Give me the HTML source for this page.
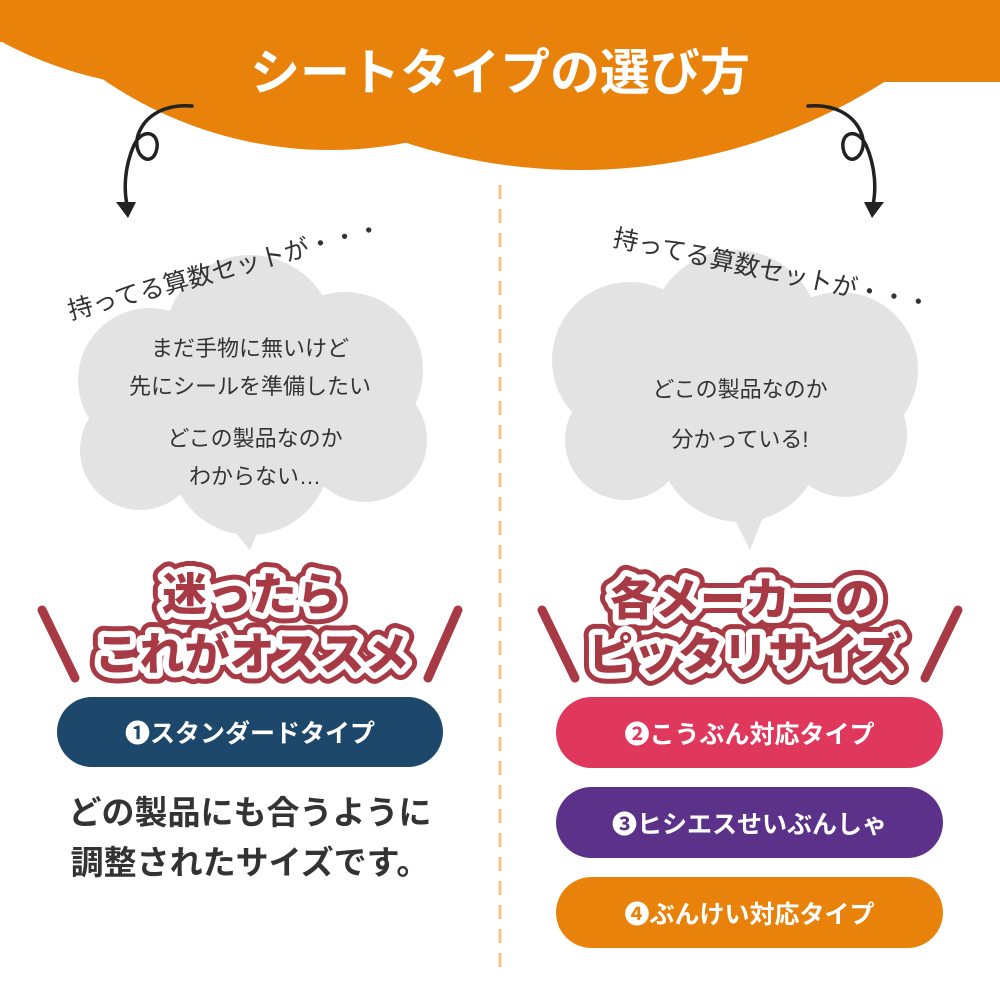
<!DOCTYPE html>
<html><head><meta charset="utf-8"><style>
body{margin:0;width:1000px;height:1000px;background:#fff;overflow:hidden;position:relative;font-family:"Liberation Sans","Noto Sans CJK JP",sans-serif}
.t{position:absolute;white-space:nowrap;color:#333}
.btn{position:absolute;border-radius:36px;color:#fff;font-weight:bold;font-size:25px;display:flex;align-items:center;justify-content:center}
</style></head><body>
<svg width="1000" height="1000" style="position:absolute;left:0;top:0">
<g fill="#e8820a">
<rect x="0" y="0" width="1000" height="42"/>
<ellipse cx="200" cy="-150" rx="330" ry="240"/>
<circle cx="330" cy="-250" r="400"/>
<circle cx="580" cy="-400" r="570"/>
<rect x="700" y="0" width="300" height="82"/>
</g>
<g fill="none" stroke="#222" stroke-width="3.5" stroke-linecap="round">
<path d="M192,106 C165,104 145,115 138,135 C132,155 150,168 156,152 C162,134 144,125 134,145 C124,168 124,190 127,205"/>
<path d="M808,106 C835,104 855,115 862,135 C868,155 850,168 844,152 C838,134 856,125 866,145 C876,168 876,190 873,205"/>
</g>
<path d="M116,202 L136,202 L128,218Z" fill="#222"/>
<path d="M864,202 L884,202 L872,218Z" fill="#222"/>
<line x1="500" y1="185" x2="500" y2="968" stroke="#f0c48a" stroke-width="3" stroke-dasharray="14,10"/>
<g fill="#e3e3e3">
<circle cx="150" cy="380" r="72"/><circle cx="250" cy="340" r="85"/><circle cx="345" cy="370" r="78"/>
<circle cx="365" cy="440" r="62"/><circle cx="250" cy="455" r="80"/><circle cx="140" cy="450" r="60"/>
<path d="M225,520 L250,550 L265,515Z"/>
<circle cx="630" cy="360" r="78"/><circle cx="735" cy="335" r="85"/><circle cx="840" cy="370" r="78"/>
<circle cx="845" cy="435" r="62"/><circle cx="740" cy="440" r="82"/><circle cx="625" cy="440" r="60"/>
<path d="M730,510 L750,550 L768,505Z"/>
</g>
<g stroke="#a83a45" stroke-width="9" stroke-linecap="round">
<line x1="42" y1="610" x2="75" y2="678"/><line x1="458" y1="610" x2="428" y2="678"/>
<line x1="542" y1="610" x2="575" y2="678"/><line x1="958" y1="610" x2="925" y2="678"/>
</g>
<g font-family="Liberation Sans,Noto Sans CJK JP,sans-serif" font-weight="900" font-size="45" text-anchor="middle" stroke-linejoin="round">
<g stroke="#a83a45" stroke-width="22" fill="#a83a45">
<text x="252" y="610">迷ったら</text><text x="252" y="670">これがオススメ</text>
<text x="745" y="615">各メーカーの</text><text x="745" y="670">ピッタリサイズ</text></g>
<g stroke="#fff" stroke-width="12" fill="#fff">
<text x="252" y="610">迷ったら</text><text x="252" y="670">これがオススメ</text>
<text x="745" y="615">各メーカーの</text><text x="745" y="670">ピッタリサイズ</text></g>
<g fill="#a83a45">
<text x="252" y="610">迷ったら</text><text x="252" y="670">これがオススメ</text>
<text x="745" y="615">各メーカーの</text><text x="745" y="670">ピッタリサイズ</text></g>
</g>
<text x="500" y="90" text-anchor="middle" font-family="Liberation Sans,Noto Sans CJK JP,sans-serif" font-weight="bold" font-size="50" fill="#fff">シートタイプの選び方</text>
</svg>
<div class="t" style="left:68px;top:292px;font-size:25px;transform:rotate(-15deg);transform-origin:left center">持ってる算数セットが・・・</div>
<div class="t" style="left:614px;top:218px;font-size:25px;transform:rotate(12deg);transform-origin:left center">持ってる算数セットが・・・</div>
<div class="t" style="left:0;width:500px;text-align:center;top:330px;font-size:22px;line-height:38px">まだ手物に無いけど<br>先にシールを準備したい</div>
<div class="t" style="left:0;width:510px;text-align:center;top:420px;font-size:22px;line-height:38px">どこの製品なのか<br>わからない…</div>
<div class="t" style="left:490px;width:500px;text-align:center;top:365px;font-size:22px;line-height:50px">どこの製品なのか<br>分かっている!</div>
<div class="btn" style="left:57px;top:697px;width:386px;height:70px;background:#1d476b">❶スタンダードタイプ</div>
<div class="btn" style="left:556px;top:697px;width:387px;height:71px;background:#e0385c">❷こうぶん対応タイプ</div>
<div class="btn" style="left:556px;top:787px;width:387px;height:71px;background:#5c3189">❸ヒシエスせいぶんしゃ</div>
<div class="btn" style="left:556px;top:877px;width:387px;height:71px;background:#e8820a">❹ぶんけい対応タイプ</div>
<div class="t" style="left:0;width:500px;text-align:center;top:788px;font-size:33px;font-weight:bold;line-height:50px">どの製品にも合うように<br>調整されたサイズです。</div>
</body></html>
